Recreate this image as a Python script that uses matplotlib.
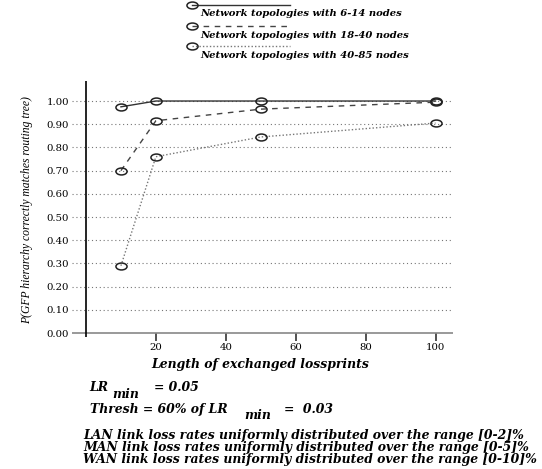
import matplotlib
matplotlib.use("Agg")
import matplotlib.pyplot as plt
import numpy as np
from matplotlib.path import Path
from matplotlib.lines import Line2D

W, H = 542, 469

# data
lengths = [10, 20, 50, 100]
small_nets = [0.975, 1.00, 1.00, 1.00]     # 6-14 nodes
medium_nets = [0.70, 0.915, 0.965, 0.995]  # 18-40 nodes
large_nets = [0.29, 0.76, 0.845, 0.905]    # 40-85 nodes
series_labels = ["Network topologies with 6-14 nodes",
                 "Network topologies with 18-40 nodes",
                 "Network topologies with 40-85 nodes"]
yticks = [0.0, 0.1, 0.2, 0.3, 0.4, 0.5, 0.6, 0.7, 0.8, 0.9, 1.0]
xticks = [20, 40, 60, 80, 100]
notes = ["LAN link loss rates uniformly distributed over the range [0-2]%",
         "MAN link loss rates uniformly distributed over the range [0-5]%",
         "WAN link loss rates uniformly distributed over the range [0-10]%"]

SERIF = "DejaVu Serif"
BI = dict(family=SERIF, style="italic", weight="bold")
FS = 8.9


def fx(x):
    return x / W


def fy(y):
    return 1 - y / H


circ = Path.unit_circle()
ellipse = Path(circ.vertices * np.array([1.0, 0.62]), circ.codes)

fig = plt.figure(figsize=(W / 100, H / 100), dpi=100)
ax = fig.add_axes([fx(72), fy(336.5), fx(453) - fx(72), fy(81.3) - fy(336.5)])
ax.set_xlim(-4, 105)
ax.set_ylim(-0.015, 1.085)

for v in yticks[1:]:
    ax.axhline(v, color="#777777", lw=0.8, ls=(0, (1, 2.5)), zorder=1)
ax.axhline(0, color="#888888", lw=1.2, zorder=2)
ax.axvline(0, color="black", lw=1.2, zorder=3)

styles = [("-", "#333333"), ((0, (4, 4)), "#444444"), ((0, (1, 1.5)), "#777777")]
for vals, (ls, col) in zip([small_nets, medium_nets, large_nets], styles):
    ax.plot(lengths, vals, ls=ls, color=col, lw=1.0, zorder=4,
            marker=ellipse, markersize=8, markerfacecolor="none",
            markeredgecolor="#222222", markeredgewidth=1.1)

for s in ax.spines.values():
    s.set_visible(False)
ax.set_yticks(yticks)
ax.set_yticklabels([f"{v:.2f}" for v in yticks], family=SERIF, fontsize=7.3)
ax.tick_params(axis="y", length=0, pad=2)
ax.set_xticks(xticks)
ax.set_xticklabels([str(v) for v in xticks], family=SERIF, fontsize=7.3)
ax.tick_params(axis="x", direction="inout", length=6, width=1.2,
               color="#333333", pad=2)

fig.text(fx(27), fy(210), "P(GFP hierarchy correctly matches routing tree)",
         rotation=90, ha="center", va="center", family="Liberation Serif",
         style="italic", fontsize=8.4)

# legend drawn above the plot
leg_y = [5, 26, 46]
for i, (lab, (ls, col)) in enumerate(zip(series_labels, styles)):
    fig.add_artist(Line2D([fx(192), fx(290)], [fy(leg_y[i])] * 2, ls=ls,
                          color=col, lw=1.0, transform=fig.transFigure))
    fig.add_artist(Line2D([fx(192)], [fy(leg_y[i])], marker=ellipse,
                          markersize=8, markerfacecolor="none",
                          markeredgecolor="#222222", markeredgewidth=1.1,
                          transform=fig.transFigure))
    fig.text(fx(200), fy(leg_y[i] + 9), lab, ha="left", va="center",
             fontsize=7.2, **BI)

fig.text(fx(151), fy(364), "Length of exchanged lossprints", ha="left",
         va="center", fontsize=FS, **BI)

fig.text(fx(89), fy(387), "LR", ha="left", va="center", fontsize=FS, **BI)
fig.text(fx(112), fy(394), "min", ha="left", va="center", fontsize=FS, **BI)
fig.text(fx(154), fy(387), "= 0.05", ha="left", va="center", fontsize=FS, **BI)
fig.text(fx(90), fy(409), "Thresh = 60% of LR", ha="left", va="center",
         fontsize=FS, **BI)
fig.text(fx(244), fy(415), "min", ha="left", va="center", fontsize=FS, **BI)
fig.text(fx(284), fy(409), "=  0.03", ha="left", va="center", fontsize=FS, **BI)

for i, line in enumerate(notes):
    fig.text(fx(83), fy(435 + 12.3 * i), line, ha="left", va="center",
             fontsize=FS, **BI)

fig.savefig("out.png", dpi=100)
